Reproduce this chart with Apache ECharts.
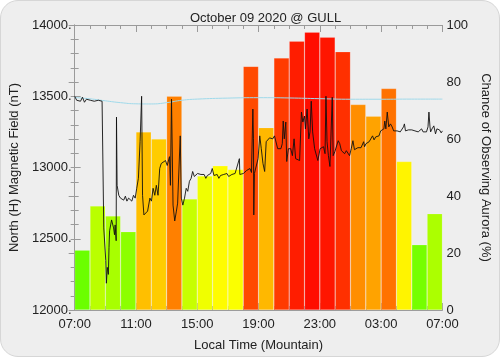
<!DOCTYPE html>
<html>
<head>
<meta charset="utf-8">
<script src="https://cdn.jsdelivr.net/npm/echarts@6/dist/echarts.min.js"></script>
<style>
html,body{margin:0;padding:0;background:#ffffff;}
#wrap{position:absolute;left:0;top:0;width:498px;height:355px;background:#eeeeee;border:1px solid #d6d6d6;border-radius:18px;}
#chart{position:absolute;left:0;top:0;width:500px;height:357px;}
</style>
</head>
<body>
<div id="wrap"></div>
<div id="chart"></div>
<script>
// ---- data ----
const title = 'October 09 2020 @ GULL';
const hourCategories = ['07','08','09','10','11','12','13','14','15','16','17','18',
                        '19','20','21','22','23','00','01','02','03','04','05','06'];
const auroraChance = [21, 36.5, 33, 27.5, 62.5, 60, 75, 39, 47, 50.6, 49.3, 85.5,
                      64, 88.4, 94.3, 97.5, 95.7, 90.6, 72.1, 68, 77.7, 52.1, 22.9, 33.8];
// magnetometer trace: hours after 07:00 local, nT
const magTime = [0,0.13,0.26,0.38,0.51,0.64,0.77,0.90,1.02,1.15,1.28,1.41,1.54,1.66,1.79,1.88,1.90,
  2.03,2.07,2.13,2.20,2.24,2.28,2.35,2.41,2.48,2.54,2.60,2.64,2.71,2.73,2.77,2.88,2.99,3.09,3.20,3.31,
  3.41,3.52,3.63,3.73,3.84,3.95,4.05,4.16,4.27,4.37,4.43,4.52,4.65,4.76,4.91,5.01,5.12,5.23,5.33,5.44,
  5.55,5.65,5.76,5.93,6.04,6.19,6.25,6.32,6.42,6.53,6.64,6.72,6.89,6.96,7.06,7.17,7.28,7.38,7.49,7.60,
  7.70,7.81,7.92,8.02,8.13,8.24,8.34,8.45,8.56,8.66,8.77,8.88,8.98,9.09,9.20,9.30,9.41,9.52,9.62,9.73,
  9.84,9.94,10.05,10.16,10.26,10.37,10.47,10.58,10.75,10.78,10.90,11.01,11.12,11.22,11.33,11.44,11.54,
  11.63,11.67,11.69,11.73,11.86,11.97,12.08,12.18,12.29,12.40,12.50,12.61,12.72,12.82,12.93,13.04,13.14,
  13.25,13.36,13.46,13.55,13.61,13.68,13.78,13.84,13.95,14.10,14.21,14.32,14.42,14.53,14.68,14.80,14.89,
  15.00,15.06,15.17,15.28,15.36,15.44,15.53,15.66,15.76,15.87,16.02,16.13,16.24,16.34,16.40,16.47,16.56,
  16.66,16.77,16.81,16.87,16.98,17.09,17.20,17.30,17.41,17.52,17.62,17.73,17.84,17.94,18.05,18.16,18.26,
  18.37,18.48,18.58,18.69,18.77,18.86,18.92,19.01,19.12,19.22,19.33,19.44,19.54,19.65,19.76,19.86,19.97,
  20.08,20.18,20.24,20.31,20.40,20.50,20.61,20.72,20.82,20.93,21.04,21.14,21.25,21.36,21.46,21.52,21.59,
  21.68,21.78,21.89,22.00,22.10,22.21,22.32,22.42,22.53,22.64,22.74,22.85,22.96,23.06,23.12,23.19,23.23,
  23.32,23.38,23.44,23.55,23.64,23.70,23.81,23.92,24.00];
const magValue = [13500,13472,13486,13465,13493,13458,13479,13465,13472,13458,13465,13458,13472,13458,13465,13451,12576,
  12347,12188,12299,12250,12437,12556,12597,12632,12618,12576,12528,12597,12486,13354,12875,12805,12785,12799,12771,12799,
  12764,12785,12799,12764,12805,12785,12854,12924,13181,13500,12805,12667,12660,12694,12785,12764,12854,12805,12875,12805,
  12993,13028,13042,13049,13014,13076,12875,13479,12736,12625,12694,12750,13222,12785,12736,12785,12854,12833,12903,12924,
  12972,12937,12944,12958,12972,12951,12937,12951,12924,12944,12937,12958,12993,12944,12937,12951,12924,12944,12937,12951,
  12944,12958,12937,12951,12951,12965,12958,12965,13062,12951,12944,12958,12958,12979,12972,12993,12965,
  13410,13201,12667,12958,12958,13062,13222,13132,13028,12972,13181,13188,13208,13215,13201,13222,13208,
  13132,13118,13132,13167,13326,13201,13319,13042,13132,13132,13083,13201,13062,13076,13049,13389,13319,
  13361,13271,13410,13201,13250,13465,13250,13132,13146,13049,13132,13118,13146,13097,13500,13181,13083,
  13007,12993,13493,13083,13111,13118,13188,13167,13118,13111,13097,13118,13111,13083,13132,13188,13125,
  13132,13139,13125,13139,13153,13181,13146,13167,13160,13181,13194,13222,13194,13215,13208,13222,13257,
  13250,13271,13326,13271,13389,13285,13306,13285,13257,13271,13257,13271,13250,13264,13285,13306,13257,
  13250,13264,13250,13264,13250,13257,13271,13250,13257,13271,13250,13264,13250,13285,13389,13285,13250,
  13271,13257,13292,13236,13271,13257,13264,13243,13257];
// quiet-day baseline (light blue)
const baseTime  = [0, 1, 2, 3, 4, 5, 6, 7, 8, 10, 12, 14, 16, 18, 20, 22, 24];
const baseValue = [13491,13482,13468,13455,13447,13446,13455,13472,13480,13487,13490,13488,13483,13479,13479,13480,13480];
const xTickLabels = ['07:00','11:00','15:00','19:00','23:00','03:00','07:00'];

// ---- chart ----
const magData = magTime.map((t, i) => [t, magValue[i]]);
const baseData = baseTime.map((t, i) => [t, baseValue[i]]);
const FONT = 'Liberation Sans';
const txt = '#222';
const axisCol = '#9a9a9a';

const chart = echarts.init(document.getElementById('chart'), null, {renderer: 'canvas'});
chart.setOption({
  animation: false,
  backgroundColor: 'transparent',
  textStyle: {fontFamily: FONT},
  title: {
    text: title, left: 260.5, top: 7, textAlign: 'center',
    textStyle: {fontSize: 13, fontWeight: 'normal', color: txt, fontFamily: FONT}
  },
  grid: {left: 73, right: 52, top: 25, bottom: 44, containLabel: false},
  visualMap: {
    type: 'continuous', show: false, seriesIndex: 0, min: 0, max: 100,
    inRange: {color: ['#00ff00', '#ffff00', '#ff0000']}
  },
  xAxis: [
    {
      type: 'value', position: 'bottom', min: 0, max: 24, interval: 4,
      name: 'Local Time (Mountain)', nameLocation: 'middle', nameGap: 29,
      nameTextStyle: {fontSize: 13, color: txt, fontFamily: FONT},
      axisLine: {show: true, lineStyle: {color: axisCol}},
      axisTick: {show: true, inside: true, length: 7, lineStyle: {color: axisCol}},
      minorTick: {show: true, splitNumber: 4, length: 4, lineStyle: {color: axisCol}},
      splitLine: {show: false},
      axisLabel: {
        fontSize: 13, color: txt, margin: 8, fontFamily: FONT,
        formatter: v => xTickLabels[Math.round(v / 4)]
      }
    },
    {
      type: 'value', position: 'top', min: 0, max: 24, interval: 4,
      axisLine: {show: true, lineStyle: {color: axisCol}},
      axisTick: {show: true, inside: true, length: 7, lineStyle: {color: axisCol}},
      minorTick: {show: true, splitNumber: 4, length: 4, lineStyle: {color: axisCol}},
      splitLine: {show: false},
      axisLabel: {show: false}
    },
    {
      type: 'category', data: hourCategories, show: false, boundaryGap: true
    }
  ],
  yAxis: [
    {
      type: 'value', position: 'left', min: 12000, max: 14000, interval: 500,
      name: 'North (H) Magnetic Field (nT)', nameLocation: 'middle', nameGap: 48, nameRotate: 90,
      nameTextStyle: {fontSize: 13, color: txt, fontFamily: FONT},
      axisLine: {show: true, lineStyle: {color: axisCol}},
      axisTick: {show: true, inside: true, length: 6, lineStyle: {color: axisCol}},
      minorTick: {show: true, splitNumber: 5, length: 4, lineStyle: {color: axisCol}},
      splitLine: {show: false},
      axisLabel: {fontSize: 13, color: txt, margin: 3, fontFamily: FONT, formatter: v => v + '.'}
    },
    {
      type: 'value', position: 'right', min: 0, max: 100, interval: 20,
      name: 'Chance of Observing Aurora (%)', nameLocation: 'middle', nameGap: 33, nameRotate: -90,
      nameTextStyle: {fontSize: 13, color: txt, fontFamily: FONT},
      axisLine: {show: true, lineStyle: {color: axisCol}},
      axisTick: {show: true, inside: true, length: 6, lineStyle: {color: axisCol}},
      minorTick: {show: true, splitNumber: 4, length: 4, lineStyle: {color: axisCol}},
      splitLine: {show: false},
      axisLabel: {fontSize: 13, color: txt, margin: 4, fontFamily: FONT}
    }
  ],
  series: [
    {
      type: 'bar', xAxisIndex: 2, yAxisIndex: 1, data: auroraChance,
      barWidth: '100%', barCategoryGap: '0%', z: 1,
      itemStyle: {borderColor: 'rgba(255,255,255,0.25)', borderWidth: 0.6}
    },
    {
      type: 'line', xAxisIndex: 0, yAxisIndex: 0, data: baseData,
      showSymbol: false, smooth: true, z: 3,
      lineStyle: {color: '#9fd9ea', width: 1}
    },
    {
      type: 'line', xAxisIndex: 0, yAxisIndex: 0, data: magData,
      showSymbol: false, z: 4,
      lineStyle: {color: '#111111', width: 0.9}
    }
  ]
});
</script>
</body>
</html>
